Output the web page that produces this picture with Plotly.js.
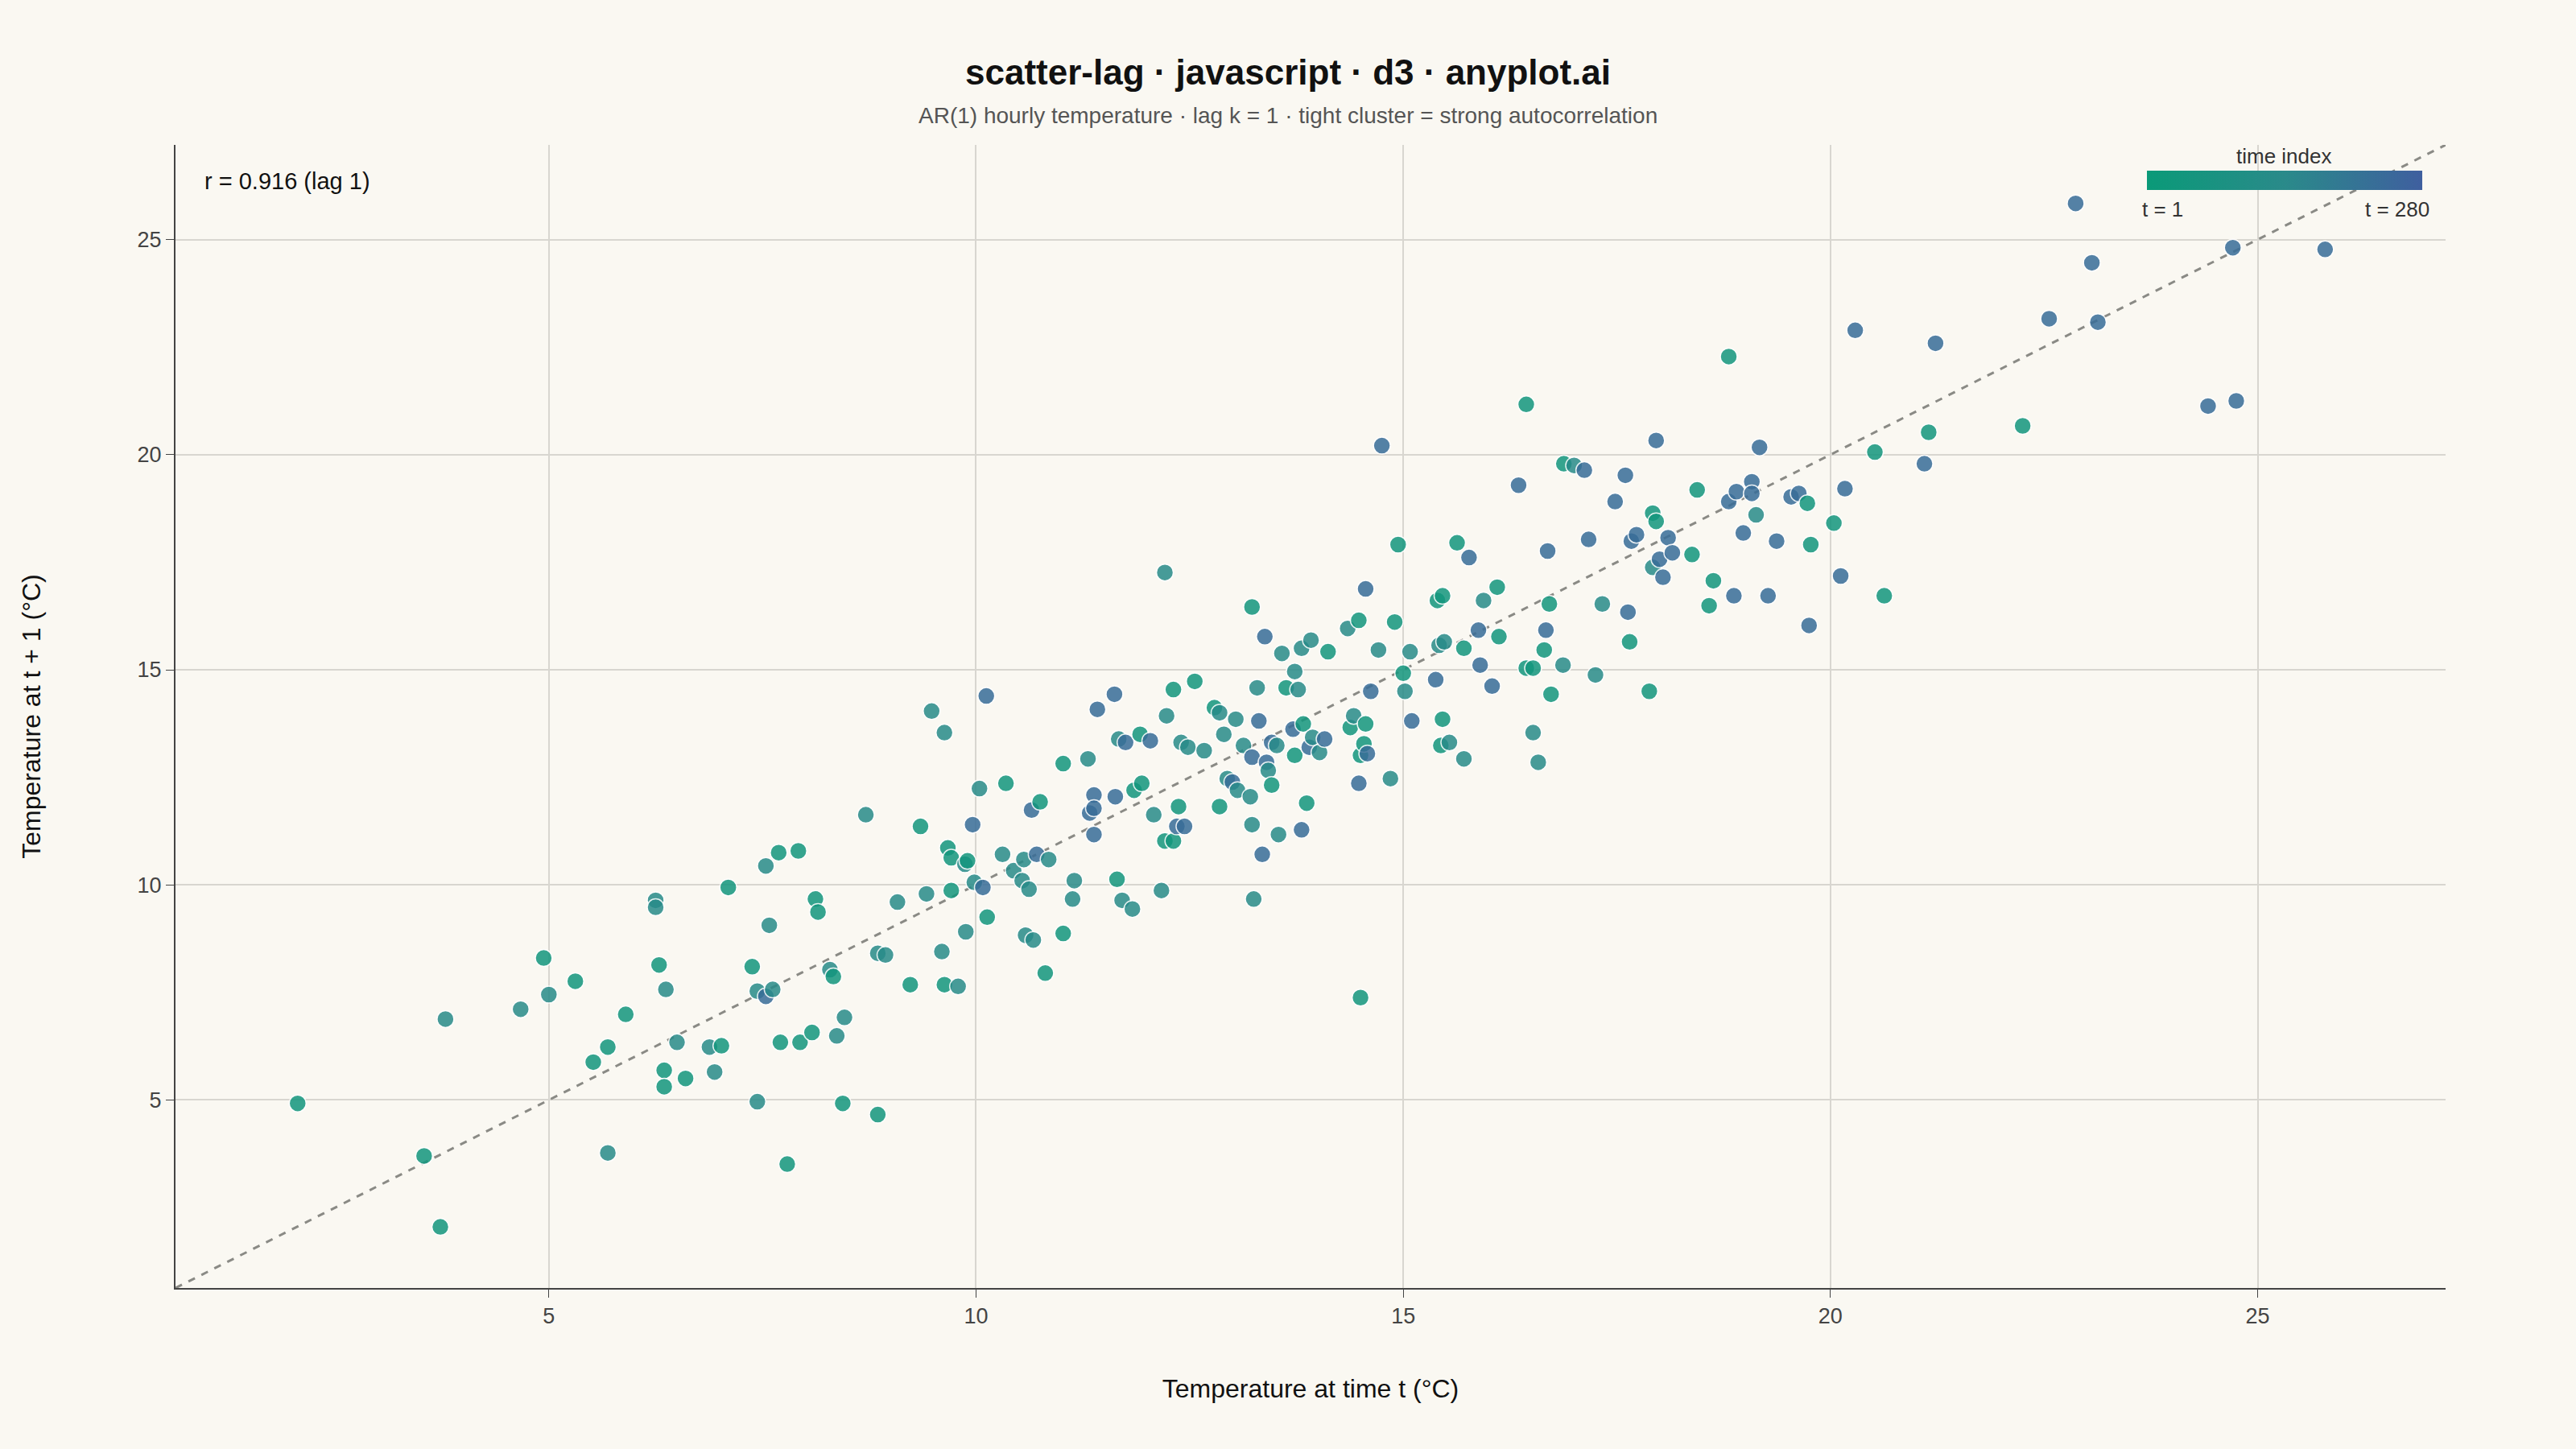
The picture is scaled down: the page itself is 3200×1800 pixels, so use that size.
<!DOCTYPE html>
<html>
<head>
<meta charset="utf-8">
<script src="https://cdn.plot.ly/plotly-3.0.1.min.js"></script>
<style>body{margin:0;background:#faf8f2;} #chart{width:3200px;height:1800px;}</style>
</head>
<body>
<div id="chart"></div>
<script>
// lag pairs: temperature at t, at t+1, and rough time index
var tempT = [2.06,3.54,3.73,3.79,4.67,4.94,5.0,5.31,5.52,5.69,5.69,5.90,6.25,6.25,6.29,6.37,6.35,6.35,6.5,6.6,6.88,6.94,7.02,7.10,7.38,7.44,7.44,7.54,7.62,7.54,7.58,7.69,7.71,7.79,7.92,7.94,8.08,8.12,8.15,8.29,8.33,8.37,8.46,8.44,8.71,8.85,8.94,8.85,9.08,9.23,9.35,9.42,9.48,9.60,9.63,9.63,9.67,9.71,9.71,9.79,9.87,9.88,9.90,9.96,9.98,10.08,10.04,10.12,10.13,10.31,10.35,10.44,10.54,10.56,10.62,10.58,10.67,10.65,10.71,10.75,10.81,10.85,11.02,11.02,11.13,11.15,11.31,11.33,11.38,11.38,11.42,11.38,11.62,11.63,11.65,11.67,11.75,11.71,11.83,11.85,11.92,11.94,12.04,12.08,12.17,12.21,12.23,12.21,12.31,12.31,12.37,12.35,12.40,12.44,12.48,12.56,12.67,12.79,12.85,12.85,12.90,12.94,13.0,13.04,13.06,13.13,13.23,13.23,13.21,13.23,13.25,13.29,13.31,13.35,13.38,13.40,13.42,13.46,13.46,13.52,13.54,13.58,13.63,13.71,13.73,13.73,13.77,13.81,13.81,13.83,13.87,13.90,13.94,14.02,13.92,14.12,14.08,14.35,14.38,14.42,14.48,14.48,14.50,14.50,14.56,14.54,14.56,14.58,14.62,14.71,14.75,14.85,14.90,14.94,15.0,15.02,15.08,15.10,15.38,15.40,15.46,15.42,15.48,15.46,15.44,15.54,15.63,15.71,15.71,15.77,15.88,15.90,15.94,16.04,16.10,16.12,16.35,16.44,16.44,16.52,16.52,16.58,16.65,16.67,16.69,16.71,16.73,16.87,16.88,17.0,17.12,17.17,17.25,17.33,17.48,17.60,17.63,17.65,17.67,17.73,17.88,17.92,17.92,17.96,17.96,18.0,18.04,18.10,18.15,18.38,18.44,18.58,18.63,18.81,18.81,18.87,18.90,18.98,19.08,19.08,19.13,19.17,19.27,19.37,19.54,19.63,19.73,19.75,19.77,20.04,20.12,20.17,20.29,20.52,20.63,21.10,21.15,21.23,22.25,22.56,22.87,23.06,23.13,24.42,24.71,24.75,25.79];
var tempNext = [4.92,3.70,2.05,6.88,7.11,8.30,7.45,7.76,5.88,6.23,3.77,6.99,9.64,9.48,8.14,7.57,5.69,5.31,6.34,5.50,6.23,5.65,6.26,9.94,8.10,4.96,7.53,7.41,7.57,10.44,9.06,10.75,6.34,3.51,10.79,6.34,6.57,9.67,9.37,8.03,7.87,6.49,6.92,4.92,11.63,8.41,8.37,4.66,9.60,7.68,11.36,9.79,14.04,8.45,13.54,7.68,10.86,10.63,9.87,7.64,10.48,8.91,10.56,11.40,10.06,9.94,12.24,14.39,9.25,10.71,12.36,10.33,10.10,10.59,9.90,8.83,8.72,11.74,10.71,11.93,7.95,10.59,12.82,8.87,9.67,10.10,12.93,11.67,12.09,11.17,14.08,11.78,14.43,12.05,10.13,13.39,13.31,9.64,9.44,12.20,13.50,12.36,13.35,11.63,9.87,17.26,13.93,11.02,14.54,11.02,11.82,11.36,13.31,11.36,13.20,14.73,13.12,14.12,14.0,11.82,13.50,12.47,12.39,13.85,12.20,13.24,12.97,16.46,12.05,11.40,9.67,14.58,13.81,10.71,15.77,12.85,12.66,13.31,12.32,13.24,11.17,15.38,14.58,13.62,13.01,14.96,14.54,11.28,15.50,13.74,11.90,13.20,13.43,13.08,15.69,15.42,13.39,15.96,13.66,13.93,16.15,12.36,13.01,7.38,13.74,13.28,16.88,13.05,14.50,15.46,20.21,12.47,16.11,17.91,14.92,14.50,15.42,13.81,14.77,16.61,16.72,15.57,15.65,13.85,13.24,13.31,17.95,15.50,12.93,17.61,15.92,15.11,16.61,14.62,16.92,15.77,19.29,21.17,15.04,15.04,13.54,12.85,15.46,15.92,17.76,16.53,14.43,15.11,19.79,19.75,19.64,18.03,14.88,16.53,18.91,19.52,16.34,15.65,17.99,18.14,14.50,18.64,17.38,20.33,18.45,17.57,17.15,18.07,17.72,17.68,19.18,16.49,17.07,22.28,18.91,16.72,19.14,18.18,19.37,19.10,18.60,20.17,16.72,17.99,19.02,19.10,18.87,16.03,17.91,18.41,17.18,19.21,22.89,20.06,16.72,19.79,20.52,22.59,20.67,23.16,25.84,24.46,23.08,21.13,24.81,21.25,24.77];
var G = 40, M = 130, B = 235;
var timeIdx = [
  G,G,G,M,M,G,M,G,G,G, M,G,M,M,G,M,G,G,M,G, M,M,G,G,G,M,M,B,M,M, M,G,G,G,G,G,G,G,G,M,
  G,M,M,G,M,M,M,G,M,G, G,M,M,M,M,G,G,G,G,M, M,M,G,B,M,B,M,B,G,M, G,M,M,M,M,M,M,B,B,G,
  G,M,G,G,M,M,M,B,B,B, B,B,B,B,G,M,B,M,M,G, G,G,B,M,M,M,M,G,G,G, G,B,M,B,M,G,M,G,M,G,
  M,M,B,M,M,M,B,G,M,M, M,M,B,B,B,B,M,B,G,M, M,M,G,B,G,M,M,B,M,G, G,B,M,M,M,G,B,M,G,M,
  G,B,G,G,G,G,B,B,B,M, B,M,G,G,G,M,M,B,B,G, G,M,M,G,G,M,G,G,M,B, B,B,M,B,G,G,B,G,G,G,
  M,M,G,B,B,G,G,M,G,M, B,B,M,M,B,B,B,G,B,B, G,G,M,B,G,B,B,B,B,G, G,G,G,G,B,B,B,B,B,B,
  M,B,B,B,B,B,G,B,G,G, B,B,B,G,G,B,G,B,G,B, B,B,B,B,B,B,B];
var axisRange = [0.63, 27.2];

var points = {
  x: tempT, y: tempNext, mode: 'markers', type: 'scatter', showlegend: false,
  marker: {
    size: 21, opacity: 0.85, color: timeIdx, cmin: 1, cmax: 280,
    colorscale: [[0, '#0a9a78'], [0.5, '#2a8a8a'], [1, '#3f5f9f']],
    line: {color: '#ffffff', width: 1.5},
    colorbar: {
      orientation: 'h', x: 0.929, xanchor: 'center', y: 0.969, yanchor: 'middle',
      len: 362, lenmode: 'pixels', thickness: 24, outlinewidth: 0,
      showticklabels: false, ticks: ''
    }
  }
};
var diag = {
  x: axisRange, y: axisRange, mode: 'lines', showlegend: false, hoverinfo: 'skip',
  line: {color: '#8a8a85', width: 3, dash: 'dash'}
};

var tickFont = {family: 'Liberation Sans', size: 27, color: '#444'};
var titleFont = {family: 'Liberation Sans', size: 32, color: '#111'};
var smallFont = {family: 'Liberation Sans', size: 26, color: '#333'};
var layout = {
  width: 3200, height: 1800,
  paper_bgcolor: '#faf8f2', plot_bgcolor: '#faf8f2',
  margin: {l: 218, r: 162, t: 180, b: 200},
  title: {
    text: '<b>scatter-lag · javascript · d3 · anyplot.ai</b>',
    font: {family: 'Liberation Sans', size: 44, color: '#111'},
    x: 0.5, xref: 'container', y: 0.95, yref: 'container', yanchor: 'middle'
  },
  xaxis: {
    range: axisRange, tickvals: [5, 10, 15, 20, 25], ticks: 'outside', ticklen: 10,
    showgrid: true, gridcolor: '#d8d6d0', gridwidth: 1.5, zeroline: false,
    showline: true, linecolor: '#444', linewidth: 2, tickfont: tickFont,
    title: {text: 'Temperature at time t (°C)', font: titleFont, standoff: 64}
  },
  yaxis: {
    range: axisRange, tickvals: [5, 10, 15, 20, 25], ticks: 'outside', ticklen: 10,
    showgrid: true, gridcolor: '#d8d6d0', gridwidth: 1.5, zeroline: false,
    showline: true, linecolor: '#444', linewidth: 2, tickfont: tickFont,
    title: {text: 'Temperature at t + 1 (°C)', font: titleFont, standoff: 110}
  },
  annotations: [
    {text: 'AR(1) hourly temperature · lag k = 1 · tight cluster = strong autocorrelation',
     xref: 'paper', yref: 'paper', x: 0.490, y: 1.026, xanchor: 'center', yanchor: 'middle',
     showarrow: false, font: {family: 'Liberation Sans', size: 28, color: '#555'}},
    {text: 'r = 0.916 (lag 1)', xref: 'paper', yref: 'paper', x: 0.012, y: 0.968,
     xanchor: 'left', yanchor: 'middle', showarrow: false,
     font: {family: 'Liberation Sans', size: 29, color: '#111'}},
    {text: 'time index', xref: 'paper', yref: 'paper', x: 0.929, y: 0.990,
     xanchor: 'center', yanchor: 'middle', showarrow: false, font: smallFont},
    {text: 't = 1', xref: 'paper', yref: 'paper', x: 0.8656, y: 0.944,
     xanchor: 'left', yanchor: 'middle', showarrow: false, font: smallFont},
    {text: 't = 280', xref: 'paper', yref: 'paper', x: 0.9936, y: 0.944,
     xanchor: 'right', yanchor: 'middle', showarrow: false, font: smallFont}
  ]
};

Plotly.newPlot('chart', [diag, points], layout, {displayModeBar: false});
</script>
</body>
</html>
